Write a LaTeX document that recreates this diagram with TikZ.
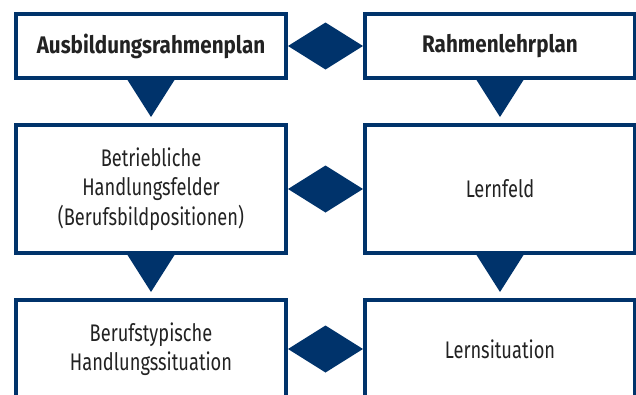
\documentclass[tikz,border=0pt]{standalone}
\usepackage{fontspec}
\setmainfont{Fira Sans}[FakeStretch=0.76]
\newfontfamily\headfont{Fira Sans}[FakeStretch=0.86]
\usetikzlibrary{calc}

\definecolor{planblue}{RGB}{0,51,107}
\definecolor{plantext}{RGB}{34,34,34}

\tikzset{
  planbox/.style={draw=planblue, line width=4pt, fill=white, text=plantext,
    minimum width=270pt, align=center,
    font=\fontsize{24}{29.5}\selectfont},
  headbox/.style={planbox, minimum height=64pt,
    font=\fontsize{24}{29.5}\headfont\bfseries},
  linkfill/.style={fill=planblue}
}

\begin{document}
\begin{tikzpicture}[x=1pt,y=-1pt]
  \useasboundingbox (0,0) rectangle (636,394);
  \clip (0,0) rectangle (636,394);

  % top row
  \node[headbox] (arp) at (151,46) {Ausbildungsrahmenplan};
  \node[headbox] (rlp) at (500,46) {Rahmenlehrplan};

  % middle row
  \node[planbox,minimum height=128pt] (bhf) at (151,189) {Betriebliche\\Handlungsfelder\\(Berufsbildpositionen)};
  \node[planbox,minimum height=128pt] (lf) at (500,189) {Lernfeld};

  % bottom row
  \node[planbox,minimum height=98pt] (bhs) at (151,349) {Berufstypische\\Handlungssituation};
  \node[planbox,minimum height=98pt] (ls) at (500,349) {Lernsituation};

  % triangles down
  \foreach \a/\b in {arp/bhf,bhf/bhs,rlp/lf,lf/ls}{
    \fill[linkfill] ($(\a.south)+(-23.5,0)$) -- ($(\a.south)+(23.5,0)$) -- ($(\a.south)+(0,37)$) -- cycle;
  }

  % diamonds between columns
  \foreach \a/\b in {arp/rlp,bhf/lf,bhs/ls}{
    \coordinate (mid) at ($(\a.east)!0.5!(\b.west)$);
    \fill[linkfill] (\a.east) -- ($(mid)+(0,-23.5)$) -- (\b.west) -- ($(mid)+(0,23.5)$) -- cycle;
  }
\end{tikzpicture}
\end{document}
